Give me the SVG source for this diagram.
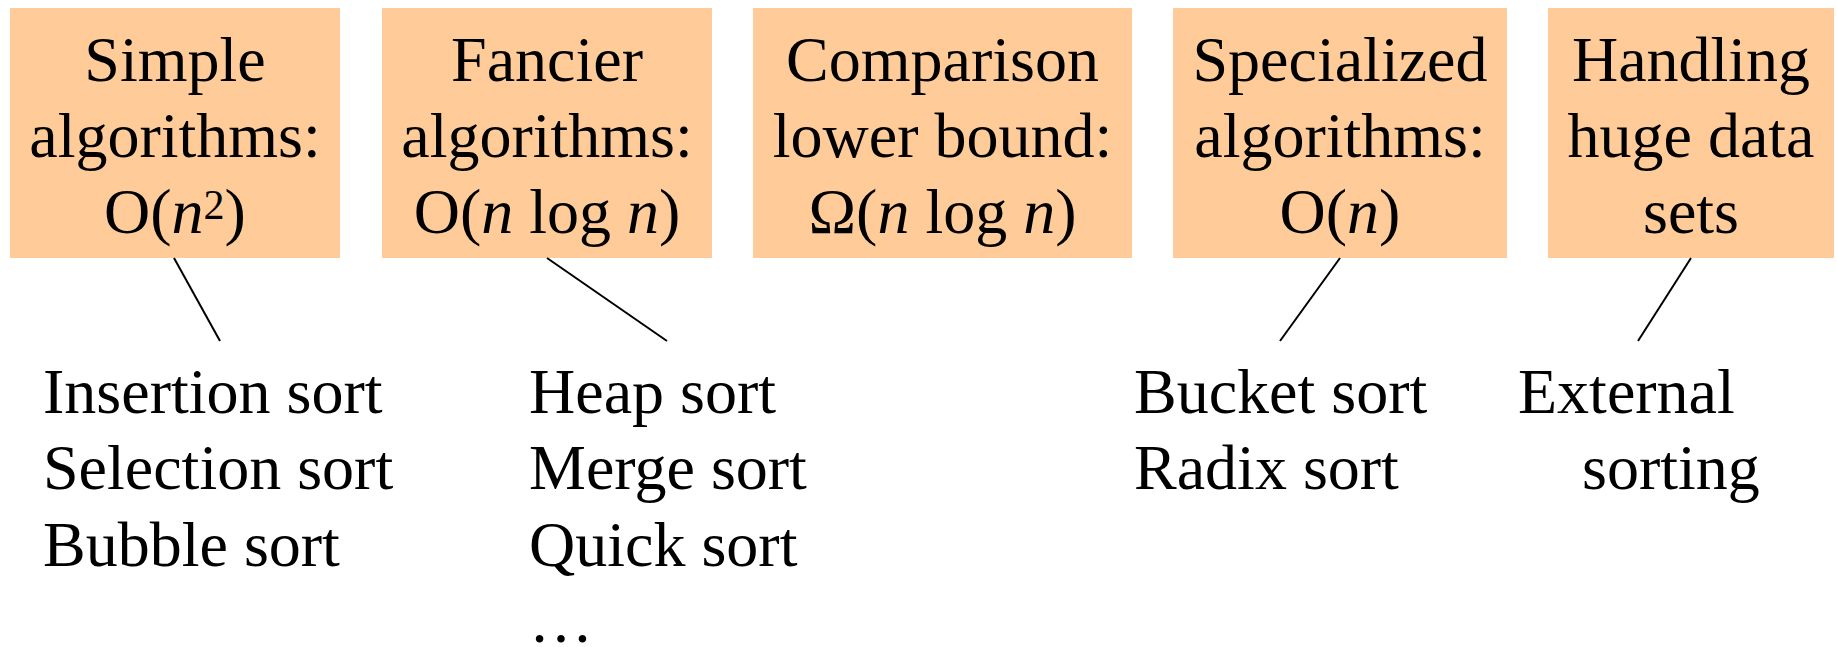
<svg xmlns="http://www.w3.org/2000/svg" width="1837" height="647" viewBox="0 0 1837 647">
<style>
.box{fill:#FFCC99;stroke:none}
.t{font-family:"Liberation Serif","Times New Roman",serif;font-size:64px;fill:#000}
.c{text-anchor:middle}
.i{font-style:italic}
.conn line{stroke:#000;stroke-width:2;fill:none}
</style>
<rect width="1837" height="647" fill="#fff"/>
<g id="simple">
<rect class="box" x="10" y="8" width="330" height="250"/>
<text class="t c" x="175" y="81">Simple</text>
<text class="t c" x="175" y="157">algorithms:</text>
<text class="t c" x="175" y="233">O(<tspan class="i">n</tspan><tspan font-size="42" dy="-14">2</tspan><tspan dy="14">)</tspan></text>
</g>
<g id="fancier">
<rect class="box" x="382" y="8" width="330" height="250"/>
<text class="t c" x="547" y="81">Fancier</text>
<text class="t c" x="547" y="157">algorithms:</text>
<text class="t c" x="547" y="233">O(<tspan class="i">n</tspan> log <tspan class="i">n</tspan>)</text>
</g>
<g id="comparison">
<rect class="box" x="753" y="8" width="379" height="250"/>
<text class="t c" x="942.5" y="81">Comparison</text>
<text class="t c" x="942.5" y="157">lower bound:</text>
<text class="t c" x="942.5" y="233">Ω(<tspan class="i">n</tspan> log <tspan class="i">n</tspan>)</text>
</g>
<g id="specialized">
<rect class="box" x="1173" y="8" width="334" height="250"/>
<text class="t c" x="1340" y="81">Specialized</text>
<text class="t c" x="1340" y="157">algorithms:</text>
<text class="t c" x="1340" y="233">O(<tspan class="i">n</tspan>)</text>
</g>
<g id="huge">
<rect class="box" x="1548" y="8" width="286" height="250"/>
<text class="t c" x="1691" y="81">Handling</text>
<text class="t c" x="1691" y="157">huge data</text>
<text class="t c" x="1691" y="233">sets</text>
</g>
<g id="simple-list">
<text class="t" x="43" y="413">Insertion sort</text>
<text class="t" x="43" y="489">Selection sort</text>
<text class="t" x="43" y="566">Bubble sort</text>
</g>
<g id="fancier-list">
<text class="t" x="529" y="413">Heap sort</text>
<text class="t" x="529" y="489">Merge sort</text>
<text class="t" x="529" y="566">Quick sort</text>
<text class="t" x="529" y="642">…</text>
</g>
<g id="specialized-list">
<text class="t" x="1134" y="413">Bucket sort</text>
<text class="t" x="1134" y="489">Radix sort</text>
</g>
<g id="huge-list">
<text class="t" x="1518" y="413">External</text>
<text class="t" x="1582" y="489">sorting</text>
</g>
<g id="connectors" class="conn">
<line x1="174" y1="258" x2="220" y2="341"/>
<line x1="547" y1="258" x2="667" y2="341"/>
<line x1="1340" y1="258" x2="1280" y2="341"/>
<line x1="1691" y1="258" x2="1638" y2="341"/>
</g>
</svg>
